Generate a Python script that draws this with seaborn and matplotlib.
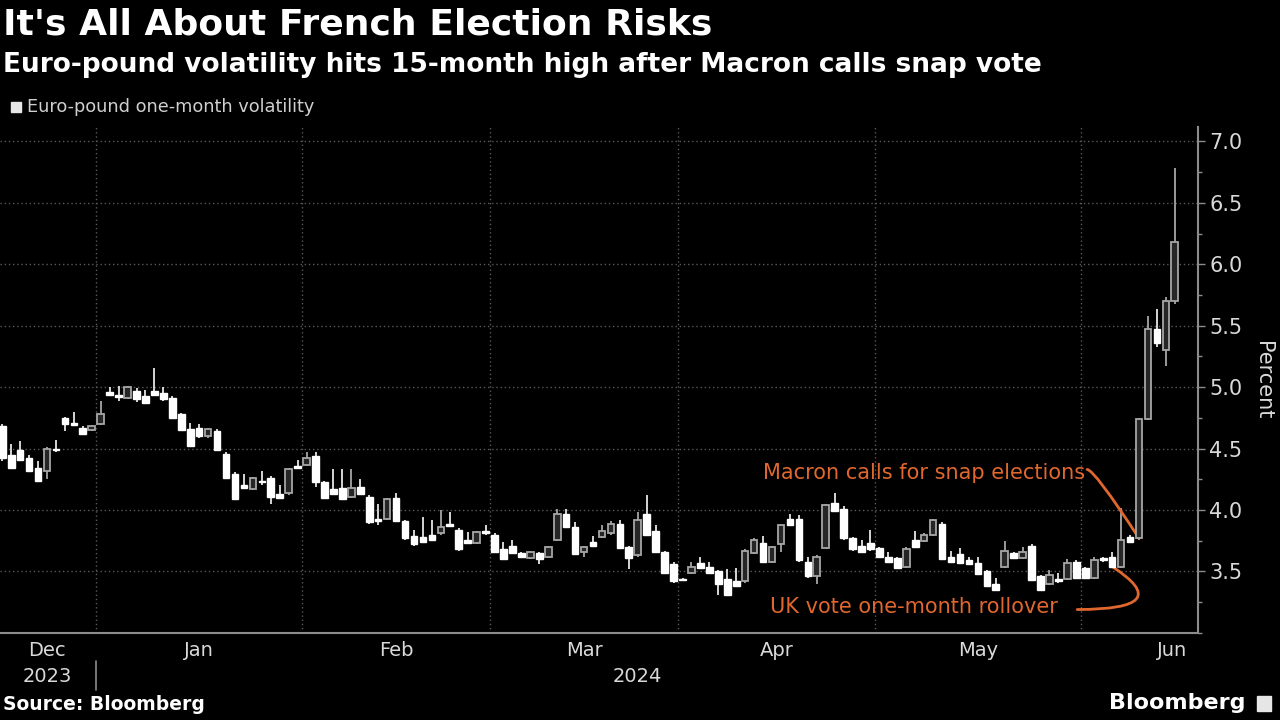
import numpy as np
import pandas as pd
import seaborn as sns
import matplotlib.pyplot as plt
from matplotlib.ticker import MultipleLocator
from matplotlib.patches import Rectangle

# daily candles, euro-pound one-month implied vol (%)
dates = pd.bdate_range("2023-12-15", periods=132)
opens = [4.68, 4.45, 4.49, 4.42, 4.34, 4.32, 4.50, 4.75, 4.71, 4.67, 4.65, 4.70,
         4.96, 4.94, 4.91, 4.97, 4.93, 4.97, 4.95, 4.91, 4.78, 4.66, 4.67, 4.60,
         4.64, 4.46, 4.29, 4.20, 4.17, 4.24, 4.26, 4.13, 4.14, 4.36, 4.37, 4.44,
         4.23, 4.17, 4.18, 4.11, 4.19, 4.11, 3.93, 3.93, 4.10, 3.91, 3.79, 3.78,
         3.80, 3.81, 3.89, 3.84, 3.76, 3.73, 3.83, 3.80, 3.68, 3.71, 3.65, 3.61,
         3.65, 3.62, 3.76, 3.97, 3.86, 3.66, 3.74, 3.78, 3.81, 3.89, 3.70, 3.63,
         3.97, 3.83, 3.66, 3.56, 3.44, 3.49, 3.57, 3.54, 3.50, 3.44, 3.42, 3.42,
         3.65, 3.73, 3.58, 3.72, 3.93, 3.93, 3.58, 3.46, 3.69, 4.06, 4.01, 3.77,
         3.71, 3.73, 3.69, 3.62, 3.61, 3.54, 3.76, 3.75, 3.80, 3.89, 3.62, 3.64,
         3.59, 3.57, 3.50, 3.40, 3.54, 3.65, 3.61, 3.71, 3.46, 3.40, 3.44, 3.44,
         3.58, 3.53, 3.45, 3.61, 3.62, 3.54, 3.78, 3.77, 4.74, 5.47, 5.30, 5.70]
closes = [4.42, 4.34, 4.41, 4.32, 4.24, 4.50, 4.49, 4.70, 4.69, 4.62, 4.68, 4.78,
          4.94, 4.92, 5.00, 4.90, 4.87, 4.94, 4.90, 4.75, 4.65, 4.52, 4.60, 4.66,
          4.49, 4.26, 4.09, 4.18, 4.26, 4.23, 4.11, 4.10, 4.33, 4.34, 4.42, 4.23,
          4.10, 4.13, 4.09, 4.18, 4.13, 3.90, 3.91, 4.09, 3.91, 3.77, 3.72, 3.74,
          3.76, 3.86, 3.87, 3.68, 3.73, 3.82, 3.81, 3.66, 3.60, 3.65, 3.62, 3.66,
          3.60, 3.70, 3.97, 3.86, 3.64, 3.70, 3.71, 3.83, 3.89, 3.69, 3.61, 3.92,
          3.80, 3.66, 3.49, 3.42, 3.43, 3.54, 3.53, 3.49, 3.40, 3.31, 3.38, 3.67,
          3.76, 3.58, 3.70, 3.88, 3.88, 3.59, 3.46, 3.62, 4.04, 3.99, 3.77, 3.68,
          3.66, 3.68, 3.62, 3.58, 3.53, 3.68, 3.70, 3.80, 3.92, 3.60, 3.58, 3.57,
          3.56, 3.48, 3.38, 3.35, 3.67, 3.61, 3.66, 3.43, 3.35, 3.47, 3.42, 3.57,
          3.45, 3.45, 3.59, 3.59, 3.54, 3.76, 3.74, 4.74, 5.47, 5.36, 5.70, 6.18]
highs = [4.70, 4.54, 4.56, 4.45, 4.40, 4.51, 4.57, 4.76, 4.80, 4.68, 4.69, 4.89,
         5.00, 5.01, 5.01, 4.99, 4.98, 5.16, 5.00, 4.93, 4.79, 4.71, 4.70, 4.67,
         4.66, 4.47, 4.31, 4.29, 4.27, 4.32, 4.28, 4.20, 4.34, 4.41, 4.47, 4.47,
         4.24, 4.33, 4.33, 4.33, 4.25, 4.12, 4.05, 4.10, 4.14, 3.92, 3.84, 3.94,
         3.92, 4.00, 3.98, 3.85, 3.82, 3.83, 3.88, 3.81, 3.74, 3.76, 3.66, 3.67,
         3.66, 3.71, 4.01, 4.01, 3.90, 3.71, 3.79, 3.88, 3.91, 3.92, 3.71, 3.98,
         4.12, 3.88, 3.67, 3.58, 3.45, 3.58, 3.62, 3.58, 3.51, 3.52, 3.53, 3.68,
         3.77, 3.79, 3.71, 3.89, 3.97, 3.96, 3.62, 3.63, 4.05, 4.14, 4.03, 3.78,
         3.76, 3.84, 3.70, 3.66, 3.62, 3.70, 3.83, 3.81, 3.93, 3.90, 3.67, 3.69,
         3.62, 3.62, 3.51, 3.45, 3.75, 3.66, 3.70, 3.72, 3.47, 3.51, 3.49, 3.60,
         3.59, 3.54, 3.62, 3.62, 3.66, 4.02, 3.80, 4.75, 5.58, 5.64, 5.73, 6.78]
lows = [4.40, 4.33, 4.40, 4.31, 4.23, 4.25, 4.47, 4.64, 4.68, 4.61, 4.64, 4.69,
        4.93, 4.89, 4.90, 4.88, 4.86, 4.93, 4.89, 4.74, 4.64, 4.51, 4.59, 4.59,
        4.48, 4.25, 4.08, 4.17, 4.16, 4.20, 4.05, 4.09, 4.12, 4.33, 4.36, 4.19,
        4.09, 4.12, 4.08, 4.10, 4.12, 3.89, 3.88, 3.92, 3.90, 3.76, 3.71, 3.73,
        3.75, 3.80, 3.86, 3.67, 3.72, 3.72, 3.80, 3.65, 3.59, 3.64, 3.61, 3.60,
        3.56, 3.61, 3.75, 3.85, 3.63, 3.62, 3.70, 3.77, 3.80, 3.68, 3.52, 3.62,
        3.79, 3.65, 3.48, 3.41, 3.42, 3.48, 3.52, 3.48, 3.31, 3.30, 3.37, 3.41,
        3.64, 3.57, 3.57, 3.66, 3.87, 3.58, 3.45, 3.40, 3.68, 3.98, 3.76, 3.67,
        3.65, 3.67, 3.61, 3.57, 3.52, 3.53, 3.69, 3.74, 3.79, 3.59, 3.57, 3.56,
        3.55, 3.47, 3.37, 3.34, 3.53, 3.60, 3.60, 3.42, 3.34, 3.39, 3.41, 3.43,
        3.44, 3.44, 3.44, 3.58, 3.53, 3.53, 3.73, 3.76, 4.73, 5.33, 5.17, 5.68]

month_names = ["Dec", "Jan", "Feb", "Mar", "Apr", "May", "Jun"]
year_names = ["2023", "2024"]
y_ticks = [3.5, 4.0, 4.5, 5.0, 5.5, 6.0, 6.5, 7.0]

df = pd.DataFrame({"date": dates, "open": opens, "close": closes,
                   "high": highs, "low": lows})
df["idx"] = np.arange(len(df))
df["up"] = df["close"] > df["open"]
df["bottom"] = df[["open", "close"]].min(axis=1)
df["body"] = (df["close"] - df["open"]).abs()

sns.set_theme(style="dark", rc={
    "figure.facecolor": "black", "axes.facecolor": "black",
    "axes.edgecolor": "#8c8c8c", "text.color": "white",
    "xtick.color": "#8c8c8c", "ytick.color": "#8c8c8c",
    "axes.labelcolor": "#d9d9d9",
})
plt.rcParams["font.family"] = ["DejaVu Sans"]

fig = plt.figure(figsize=(12.8, 7.2), dpi=100)
ax = fig.add_axes([0.0, 0.121, 0.936, 0.703])

up = df[df["up"]]
dn = df[~df["up"]]
# wicks
ax.vlines(dn["idx"], dn["low"], dn["high"], color="#e6e6e6", lw=1.3, zorder=3)
ax.vlines(up["idx"], up["low"], up["high"], color="#a6a6a6", lw=1.3, zorder=3)
# bodies
ax.bar(dn["idx"], dn["body"], bottom=dn["bottom"], width=0.74,
       color="white", edgecolor="white", lw=1, zorder=4)
ax.bar(up["idx"], up["body"], bottom=up["bottom"], width=0.74,
       color="#262626", edgecolor="#a6a6a6", lw=1.3, zorder=4)

# month boundaries
per = df["date"].dt.to_period("M")
first_idx = df.groupby(per)["idx"].min().values
last_idx = df.groupby(per)["idx"].max().values
bounds = first_idx[1:] - 0.5
mid = (first_idx + last_idx) / 2.0
mid[-1] = last_idx[-1] - 0.3

ax.set_xlim(-0.25, 133.6)
ax.set_ylim(3.0, 7.12)
ax.set_xticks(bounds)
ax.set_xticklabels([])
ax.tick_params(axis="x", direction="inout", length=7, width=1)

ax.yaxis.tick_right()
ax.yaxis.set_label_position("right")
ax.set_yticks(y_ticks)
ax.set_yticklabels([f"{v:.1f}" for v in y_ticks], fontsize=15, color="#d9d9d9")
ax.yaxis.set_minor_locator(MultipleLocator(0.25))
ax.tick_params(axis="y", which="major", direction="out", length=5, width=1, pad=3)
ax.tick_params(axis="y", which="minor", direction="out", length=3, width=1,
               right=True, left=False)
ax.set_ylabel("Percent", fontsize=15, rotation=270, labelpad=22)

ax.grid(True, axis="both", which="major", color="#5a5a5a",
        linestyle=(0, (1, 2)), lw=1)
ax.set_axisbelow(True)
for s in ["left", "top"]:
    ax.spines[s].set_visible(False)
ax.spines["bottom"].set_linewidth(1.5)
ax.spines["right"].set_linewidth(1.5)

xt = ax.get_xaxis_transform()
for name, m in zip(month_names, mid):
    ax.text(m, -0.034, name, transform=xt, ha="center", va="center",
            fontsize=14, color="#d9d9d9")
ax.text(mid[0], -0.087, year_names[0], transform=xt, ha="center", va="center",
        fontsize=14, color="#d9d9d9")
ax.text((first_idx[1] + last_idx[-1]) / 2.0, -0.087, year_names[1], transform=xt,
        ha="center", va="center", fontsize=14, color="#d9d9d9")
ax.plot([bounds[0], bounds[0]], [-0.055, -0.112], transform=xt, color="#8c8c8c",
        lw=1.2, clip_on=False)

# annotations
orange = "#e0672e"
ax.text(121.0, 4.30, "Macron calls for snap elections", ha="right", va="center",
        fontsize=15, color=orange)
ax.annotate("", xy=(127, 3.77), xytext=(121.2, 4.33),
            arrowprops=dict(arrowstyle="-", color=orange, lw=2,
                            shrinkA=0, shrinkB=0,
                            connectionstyle="angle3,angleA=0,angleB=-57"))
ax.text(117.9, 3.21, "UK vote one-month rollover", ha="right", va="center",
        fontsize=15, color=orange)
ax.annotate("", xy=(124, 3.54), xytext=(120.1, 3.19),
            arrowprops=dict(arrowstyle="-", color=orange, lw=2,
                            shrinkA=0, shrinkB=0,
                            connectionstyle="angle3,angleA=0,angleB=-33"))

# titles
fig.text(0.002, 0.966, "It's All About French Election Risks", fontsize=26,
         fontweight="bold", color="white", va="center")
fig.text(0.002, 0.910,
         "Euro-pound volatility hits 15-month high after Macron calls snap vote",
         fontsize=19, fontweight="bold", color="white", va="center")
fig.patches.append(Rectangle((0.0085, 0.845), 0.0078, 0.0139,
                             transform=fig.transFigure, color="#e6e6e6"))
fig.text(0.021, 0.852, "Euro-pound one-month volatility", fontsize=12.8,
         color="#cfcfcf", va="center")
fig.text(0.002, 0.021, "Source: Bloomberg", fontsize=13.5, fontweight="bold",
         color="white", va="center")
fig.text(0.973, 0.024, "Bloomberg", fontsize=16, fontweight="bold",
         color="white", va="center", ha="right")
fig.patches.append(Rectangle((0.982, 0.012), 0.011, 0.022,
                             transform=fig.transFigure, color="#e6e6e6"))

fig.savefig("out.png", dpi=100, facecolor="black")
